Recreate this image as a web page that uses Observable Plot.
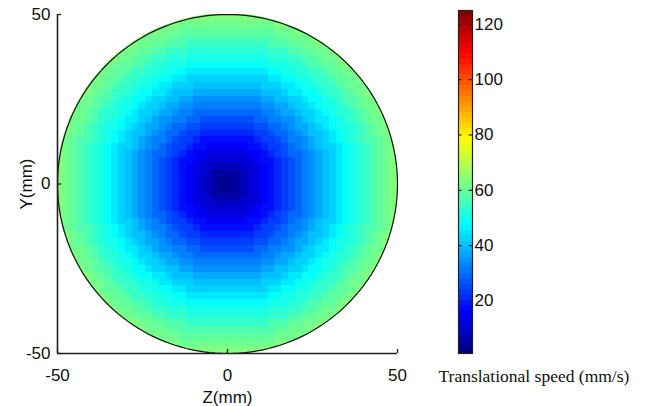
<!DOCTYPE html>
<html>
<head>
<meta charset="utf-8">
<script src="https://cdn.jsdelivr.net/npm/d3@7"></script>
<script src="https://cdn.jsdelivr.net/npm/@observablehq/plot@0.6"></script>
<style>
  html, body { margin: 0; padding: 0; background: #fff; }
  #chart { position: relative; width: 645px; height: 406px; overflow: hidden; }
  #chart > svg { position: absolute; top: 0; }
</style>
</head>
<body>
<div id="chart"></div>
<script>
// Disk geometry (mm) and sampling grid
const RADIUS = 50;
const CELL = 2;

// Translational speed (mm/s) sampled on rings at r = 0, 2, 4, ..., 50 mm
const ringRadii = [0, 2, 4, 6, 8, 10, 12, 14, 16, 18, 20, 22, 24, 26, 28, 30, 32, 34, 36, 38, 40, 42, 44, 46, 48, 50];
const ringSpeed = [1, 3, 5, 8, 11, 13, 16, 18, 21, 24, 26, 29, 32, 34, 37, 40, 42, 45, 48, 50, 52, 54, 57, 59, 61, 63];

// Colour bar range and ticks
const speedRange = [1, 125];
const barTicks = [20, 40, 60, 80, 100, 120];
const axisTicks = [-50, 0, 50];

// Jet colormap stops
const jetColors = ["#00007f", "#0000ff", "#00ffff", "#ffff00", "#ff0000", "#7f0000"];
const jetStops = [0, 0.125, 0.375, 0.625, 0.875, 1];
const colorScale = {
  type: "linear",
  domain: jetStops.map(t => speedRange[0] + t * (speedRange[1] - speedRange[0])),
  range: jetColors,
  interpolate: "rgb",
  clamp: true
};

// Grid cells touching the disk, each coloured by the ring its centre falls on
const cells = [];
for (let i = 0; i < (2 * RADIUS) / CELL; i++) {
  for (let j = 0; j < (2 * RADIUS) / CELL; j++) {
    const x1 = -RADIUS + i * CELL, y1 = -RADIUS + j * CELL;
    const cx = x1 + CELL / 2, cy = y1 + CELL / 2;
    const r = Math.hypot(cx, cy);
    if (r > RADIUS + CELL * 0.75) continue;
    const k = Math.min(ringSpeed.length - 1, Math.round(r / CELL));
    cells.push({x1, x2: x1 + CELL, y1, y2: y1 + CELL, v: ringSpeed[k]});
  }
}

// Disk outline
const outline = d3.range(0, 361, 2).map(a => ({
  x: RADIUS * Math.cos(a * Math.PI / 180),
  y: RADIUS * Math.sin(a * Math.PI / 180)
}));

const font = {fontFamily: "'Liberation Sans', Arial, sans-serif", fontSize: "17px", color: "#111", background: "transparent"};
const plain = d => String(d);

const main = Plot.plot({
  width: 430,
  height: 406,
  marginLeft: 57,
  marginRight: 33,
  marginTop: 14,
  marginBottom: 53,
  style: font,
  x: {domain: [-RADIUS, RADIUS]},
  y: {domain: [-RADIUS, RADIUS]},
  color: colorScale,
  marks: [
    Plot.rect(cells, {x1: "x1", x2: "x2", y1: "y1", y2: "y2", fill: "v", inset: -0.25, shapeRendering: "crispEdges"}),
    Plot.line(outline, {x: "x", y: "y", stroke: "#111", strokeWidth: 1.2}),
    // axis lines
    Plot.ruleX([-RADIUS], {y1: -RADIUS, y2: RADIUS, stroke: "#222", strokeWidth: 1.6}),
    Plot.ruleY([-RADIUS], {x1: -RADIUS, x2: RADIUS, stroke: "#222", strokeWidth: 1.6}),
    // inward tick marks
    Plot.ruleY(axisTicks, {x1: -RADIUS, x2: -RADIUS + 1.2, stroke: "#222", strokeWidth: 1.3}),
    Plot.ruleX(axisTicks, {y1: -RADIUS, y2: -RADIUS + 1.2, stroke: "#222", strokeWidth: 1.3}),
    Plot.axisY({ticks: axisTicks, tickFormat: plain, tickSize: 0, tickPadding: 7, label: "Y(mm)", labelAnchor: "center", labelArrow: "none", labelOffset: 38}),
    Plot.axisX({ticks: axisTicks, tickFormat: plain, tickSize: 0, tickPadding: 15, label: "Z(mm)", labelAnchor: "center", labelArrow: "none", labelOffset: 49})
  ]
});
main.style.left = "0px";

// Clip the cell mosaic to the disk outline using the plot's own scales
{
  const sx = main.scale("x"), sy = main.scale("y");
  const cx = sx.apply(0), cy = sy.apply(0);
  const rr = Math.abs(sx.apply(RADIUS) - cx);
  const ns = "http://www.w3.org/2000/svg";
  const defs = document.createElementNS(ns, "defs");
  const cp = document.createElementNS(ns, "clipPath");
  cp.setAttribute("id", "disk-clip");
  const c = document.createElementNS(ns, "circle");
  c.setAttribute("cx", cx); c.setAttribute("cy", cy); c.setAttribute("r", rr + 0.5);
  cp.append(c); defs.append(cp); main.prepend(defs);
  const g = main.querySelector('g[aria-label="rect"]');
  if (g) g.setAttribute("clip-path", "url(#disk-clip)");
}

// Colour bar: 64 discrete levels like a standard jet map
const levels = d3.range(64).map(i => {
  const step = (speedRange[1] - speedRange[0]) / 64;
  const y1 = speedRange[0] + i * step;
  return {y1, y2: y1 + step, v: y1 + step / 2};
});

const bar = Plot.plot({
  width: 215,
  height: 406,
  marginLeft: 28,
  marginRight: 173,
  marginTop: 10,
  marginBottom: 53,
  style: font,
  x: {domain: [0, 1], axis: null},
  y: {domain: speedRange, axis: null},
  color: colorScale,
  marks: [
    Plot.rect(levels, {x1: 0, x2: 1, y1: "y1", y2: "y2", fill: "v", inset: -0.2, shapeRendering: "crispEdges"}),
    Plot.frame({stroke: "#222", strokeWidth: 1.2}),
    Plot.ruleY(barTicks, {x1: 0, x2: 0.25, stroke: "#222", strokeWidth: 1.2}),
    Plot.ruleY(barTicks, {x1: 0.75, x2: 1, stroke: "#222", strokeWidth: 1.2}),
    Plot.text(barTicks, {x: 1, y: d => d, text: d => String(d), dx: 2, textAnchor: "start", fontSize: 17}),
    Plot.text(["Translational speed (mm/s)"], {
      frameAnchor: "bottom-left", textAnchor: "start", lineAnchor: "middle",
      dx: -20, dy: 23, fontSize: 17.5, fontFamily: "'Liberation Serif', 'Times New Roman', serif"
    })
  ]
});
bar.style.left = "430px";

const chart = document.getElementById("chart");
chart.append(main, bar);
</script>
</body>
</html>
